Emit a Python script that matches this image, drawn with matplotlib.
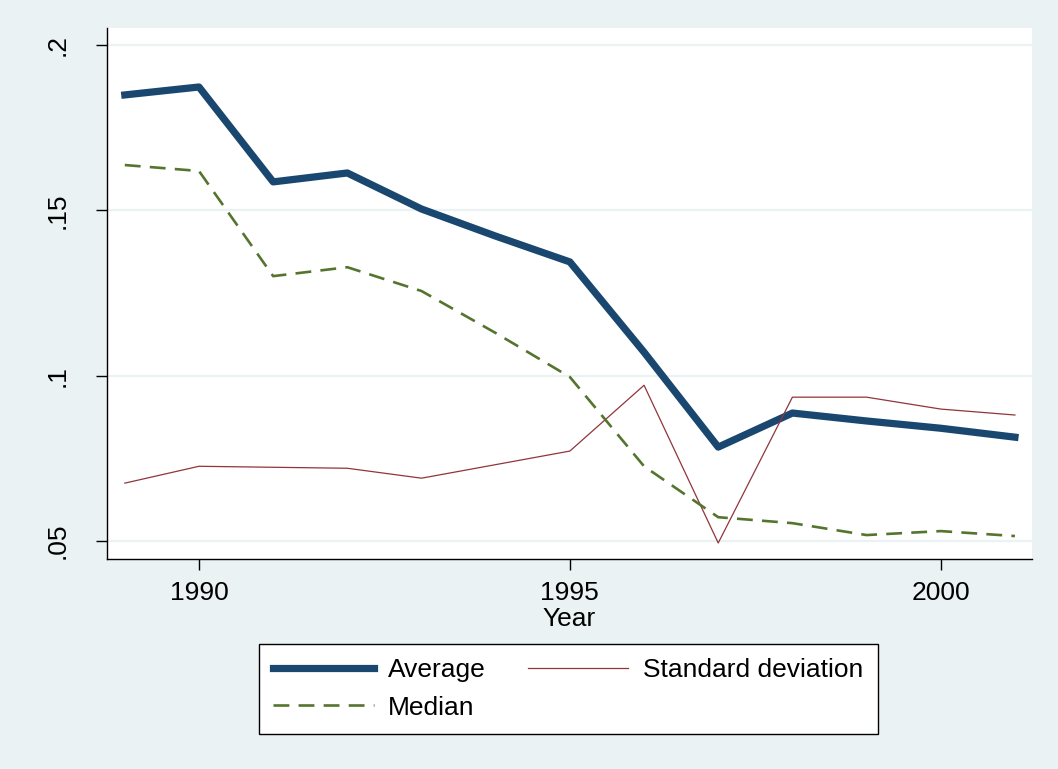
import numpy as np
import matplotlib
matplotlib.use('Agg')
import matplotlib.pyplot as plt

years = np.arange(1989, 2002)
average = [0.1849, 0.1873, 0.1586, 0.1613, 0.1504, 0.1422, 0.1344,
           0.1071, 0.0784, 0.0887, 0.0863, 0.0841, 0.0814]
median = [0.1637, 0.1619, 0.1301, 0.1328, 0.1256, 0.1129, 0.0996,
          0.0726, 0.0572, 0.0554, 0.0518, 0.0530, 0.0515]
std_dev = [0.0675, 0.0726, 0.0723, 0.0720, 0.0690, 0.0731, 0.0772,
           0.0971, 0.0494, 0.0935, 0.0935, 0.0899, 0.0881]
yticks = [0.05, 0.1, 0.15, 0.2]
ytick_labels = ['.05', '.1', '.15', '.2']
xticks = [1990, 1995, 2000]

bg = '#EAF2F3'
plt.rcParams['font.family'] = ['Liberation Sans', 'DejaVu Sans']
plt.rcParams['font.size'] = 19

fig = plt.figure(figsize=(10.58, 7.69), dpi=100, facecolor=bg)
ax = fig.add_axes([107 / 1058, 1 - 559 / 769, (1032 - 107) / 1058, (559 - 28) / 769])
ax.set_facecolor('white')

for y in yticks:
    ax.axhline(y, color=bg, lw=1.6, zorder=0)

l1, = ax.plot(years, average, color='#1A476F', lw=5.2, label='Average')
l3, = ax.plot(years, std_dev, color='#90353B', lw=0.9, label='Standard deviation')
l2, = ax.plot(years, median, color='#55752F', lw=1.9, ls=(0, (6, 3.5)), label='Median')

ax.set_xlim(1988.76, 2001.23)
ax.set_ylim(0.04456, 0.20514)
ax.set_xticks(xticks)
ax.set_xticklabels([str(x) for x in xticks])
ax.set_yticks(yticks)
ax.set_yticklabels(ytick_labels, rotation=90, va='center')
ax.tick_params(length=8, width=1, color='black')
ax.tick_params(axis='x', pad=8)
ax.tick_params(axis='y', pad=19)
for s in ['top', 'right']:
    ax.spines[s].set_visible(False)
for s in ['left', 'bottom']:
    ax.spines[s].set_linewidth(1)
ax.set_xlabel('Year', labelpad=1)

leg = fig.legend(handles=[l1, l2, l3], ncol=2, loc='center',
                 bbox_to_anchor=(0.537, 0.104), frameon=True, fancybox=False,
                 edgecolor='black', framealpha=1, handlelength=3.8,
                 handletextpad=0.55, columnspacing=1.6, borderpad=0.55,
                 labelspacing=0.5)
leg.get_frame().set_linewidth(1)

fig.savefig('out.png', dpi=100, facecolor=bg)
